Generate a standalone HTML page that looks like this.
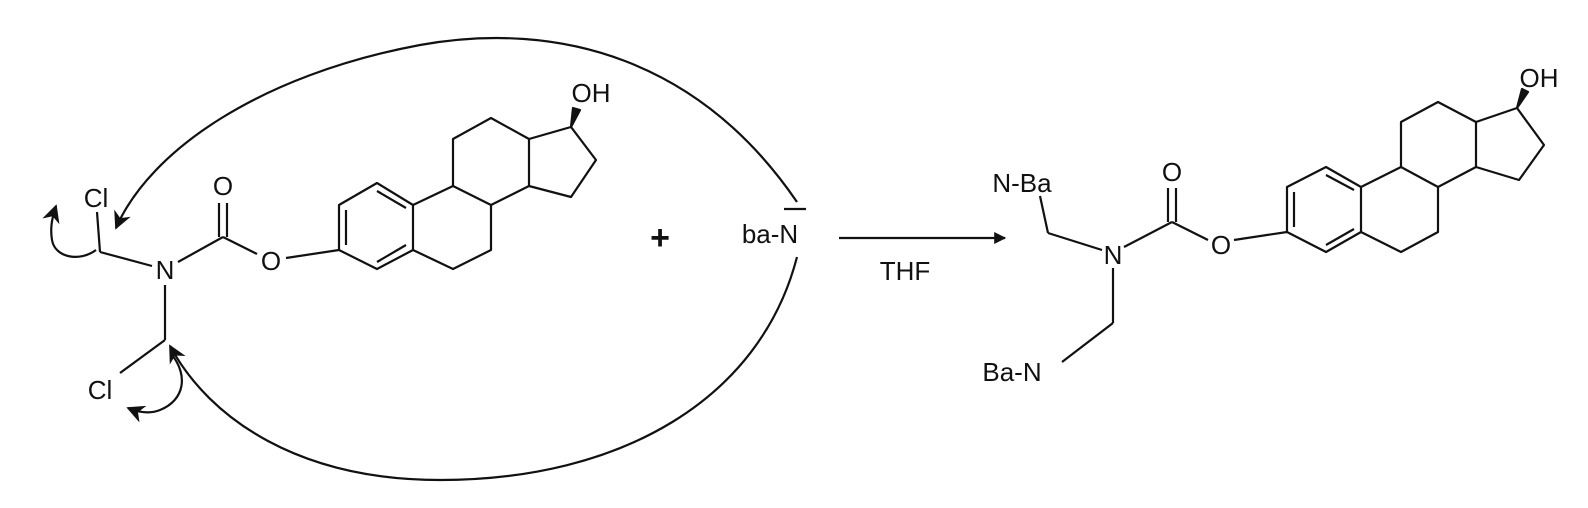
<!DOCTYPE html>
<html><head><style>
html,body{margin:0;padding:0;background:#fff;}
svg{display:block;}
text{font-family:"Liberation Sans",sans-serif;fill:#111;}
</style></head><body>
<svg width="1588" height="508" viewBox="0 0 1588 508" xmlns="http://www.w3.org/2000/svg">
<defs>
<marker id="ah" viewBox="0 0 10 10" refX="9" refY="5" markerWidth="16" markerHeight="12" orient="auto" markerUnits="userSpaceOnUse"><path d="M0,0 L10,5 L0,10 Z" fill="#111"/></marker>
<marker id="ah2" viewBox="0 0 10 10" refX="9" refY="5" markerWidth="24" markerHeight="18" orient="auto" markerUnits="userSpaceOnUse"><path d="M0,0 L10,5 L0,10 L3,5 Z" fill="#111"/></marker>
</defs>
<g stroke="#111" stroke-width="2.2" fill="none" stroke-linejoin="round">
<line x1="100" y1="252" x2="152" y2="266"/>
<line x1="100" y1="252" x2="97" y2="212"/>
<line x1="178" y1="262" x2="223" y2="237"/>
<line x1="219" y1="237" x2="219" y2="203"/>
<line x1="227" y1="237" x2="227" y2="203"/>
<line x1="223" y1="237" x2="257" y2="254"/>
<line x1="286" y1="258" x2="339" y2="250"/>
<line x1="165" y1="285" x2="165" y2="340"/>
<line x1="165" y1="340" x2="120" y2="373"/>
<polygon points="339,250 339,205 377,183 413,205 413,250 377,269"/>
<line x1="346" y1="210" x2="346" y2="245"/>
<line x1="377" y1="191" x2="406" y2="208"/>
<line x1="377" y1="262" x2="406" y2="245"/>
<polyline points="413,205 453,186 491,205 491,250 453,269 413,250"/>
<polyline points="453,186 453,139 491,118 529,139 529,186 491,205"/>
<polyline points="529,139 571,127 596,160 571,197 529,186"/>
<polygon points="571,127 573,108 580,110" fill="#111"/>
<line x1="1040" y1="196" x2="1048" y2="233"/>
<line x1="1048" y1="233" x2="1102" y2="250"/>
<line x1="1124" y1="247" x2="1172" y2="222"/>
<line x1="1168" y1="222" x2="1168" y2="188"/>
<line x1="1176" y1="222" x2="1176" y2="188"/>
<line x1="1172" y1="222" x2="1208" y2="240"/>
<line x1="1234" y1="240" x2="1287" y2="232"/>
<line x1="1113" y1="268" x2="1113" y2="323"/>
<line x1="1113" y1="323" x2="1062" y2="362"/>
<polygon points="1287,232 1287,187 1326,167 1361,187 1361,232 1326,252"/>
<line x1="1294" y1="192" x2="1294" y2="227"/>
<line x1="1326" y1="175" x2="1354" y2="190"/>
<line x1="1326" y1="245" x2="1354" y2="229"/>
<polyline points="1361,187 1401,167 1438,187 1438,232 1401,252 1361,232"/>
<polyline points="1401,167 1401,122 1438,102 1476,122 1476,167 1438,187"/>
<polyline points="1476,122 1517,108 1544,145 1519,180 1476,167"/>
<polygon points="1517,108 1522,89 1528,92" fill="#111"/>
<line x1="839" y1="238" x2="1005" y2="238" marker-end="url(#ah)"/>
<line x1="784" y1="209" x2="806" y2="209"/>
<path d="M797,202 C700,60 560,20 420,45 C260,75 150,150 116,228" marker-end="url(#ah2)"/>
<path d="M797,257 C760,400 620,480 440,480 C300,480 210,420 170,346" marker-end="url(#ah2)"/>
<path d="M96,250 C80,262 55,258 52,240 C50,228 52,218 56,206" marker-end="url(#ah2)"/>
<path d="M172,355 C188,375 185,400 160,410 C150,414 140,413 128,408" marker-end="url(#ah2)"/>
</g>
<g font-size="26">
<text x="96" y="207" text-anchor="middle">Cl</text>
<text x="165" y="279" text-anchor="middle">N</text>
<text x="223" y="195" text-anchor="middle">O</text>
<text x="271" y="270" text-anchor="middle">O</text>
<text x="100" y="399" text-anchor="middle">Cl</text>
<text x="591" y="102" text-anchor="middle">OH</text>
<text x="660" y="249" text-anchor="middle" font-size="34" font-weight="bold">+</text>
<text x="770" y="243" text-anchor="middle">ba-N</text>
<text x="905" y="280" text-anchor="middle">THF</text>
<text x="1022" y="192" text-anchor="middle">N-Ba</text>
<text x="1113" y="264" text-anchor="middle">N</text>
<text x="1172" y="181" text-anchor="middle">O</text>
<text x="1221" y="254" text-anchor="middle">O</text>
<text x="1012" y="381" text-anchor="middle">Ba-N</text>
<text x="1539" y="87" text-anchor="middle">OH</text>
</g>
</svg>
</body></html>
